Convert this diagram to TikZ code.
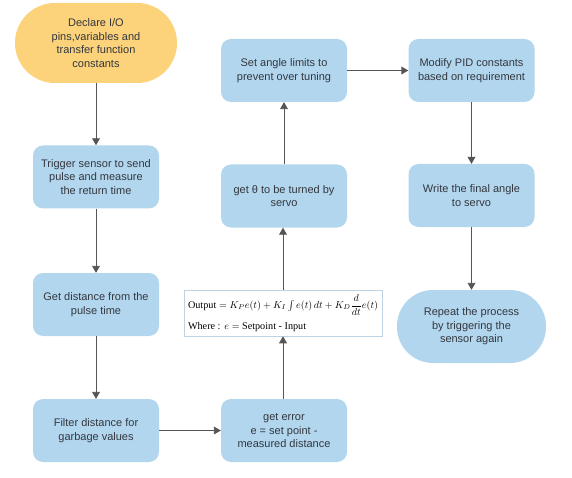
\documentclass[tikz,border=0pt]{standalone}
\usepackage{fontspec}
\setmainfont{Liberation Sans}
\newfontfamily\formfont{Liberation Serif}
\usetikzlibrary{arrows}
\definecolor{boxblue}{RGB}{178,214,238}
\definecolor{startorange}{RGB}{252,210,122}
\definecolor{txtgray}{RGB}{51,55,62}
\definecolor{linegray}{RGB}{85,85,85}
\definecolor{formedge}{RGB}{190,210,225}
\tikzstyle{every link} = []
\tikzstyle{link} = [>=triangle 60, draw=linegray, line width=0.9pt, ->, every link]
\tikzstyle{stepbox} = [fill=boxblue, rounded corners=10pt, minimum width=126pt, minimum height=63pt, inner sep=2pt, align=center, text=txtgray, font=\fontsize{11}{13.5}\selectfont]
\tikzstyle{endbox} = [stepbox, rounded corners=36pt]
\tikzstyle{formbox} = [draw=formedge, line width=0.6pt, fill=white, align=left, inner sep=2pt, minimum width=198pt, minimum height=46pt, font=\fontsize{10.2}{13.5}\selectfont]

\begin{document}
\begin{tikzpicture}[x=1pt,y=-1pt]
                    \useasboundingbox (0,0) rectangle (572,478);
                    \node[endbox, fill=startorange, minimum width=162pt, minimum height=80pt, rounded corners=39.9pt] (decl) at (96,43) {Declare I/O\\pins,variables and\\transfer function\\constants};
                    \node[stepbox] (trig) at (96,177) {Trigger sensor to send\\pulse and measure\\the return time};
                    \node[stepbox] (dist) at (96,304.5) {Get distance from the\\pulse time};
                    \node[stepbox] (filt) at (96,430.5) {Filter distance for\\garbage values};
                    \node[stepbox] (err) at (284,430.5) {get error\\e = set point -\\measured distance};
                    \node[formbox] (form) at (283,313) {{\formfont Output} $= K_P e(t) + K_I \int e(t)\,dt + K_D {\displaystyle\frac{d}{dt}} e(t)$\\[6pt]{\formfont Where :} $e =${\formfont\ Setpoint - Input}};
                    \node[stepbox] (theta) at (284,196) {get θ to be turned by\\servo};
                    \node[stepbox] (lim) at (284,70.5) {Set angle limits to\\prevent over tuning};
                    \node[stepbox] (pid) at (471.5,70.5) {Modify PID constants\\based on requirement};
                    \node[stepbox] (write) at (471.5,195.5) {Write the final angle\\to servo};
                    \node[endbox, minimum width=149pt, minimum height=73pt] (rep) at (471.5,326.5) {Repeat the process\\by triggering the\\sensor again};
                    \draw[link] (decl) -- (trig);
                    \draw[link] (trig) -- (dist);
                    \draw[link] (dist) -- (filt);
                    \draw[link] (filt) -- (err);
                    \draw[link] (err.north -| form.south) -- (form.south);
                    \draw[link] (form.north) -- (form.north |- theta.south);
                    \draw[link] (theta) -- (lim);
                    \draw[link] (lim) -- (pid);
                    \draw[link] (pid) -- (write);
                    \draw[link] (write) -- (rep);
                \end{tikzpicture}
\end{document}
